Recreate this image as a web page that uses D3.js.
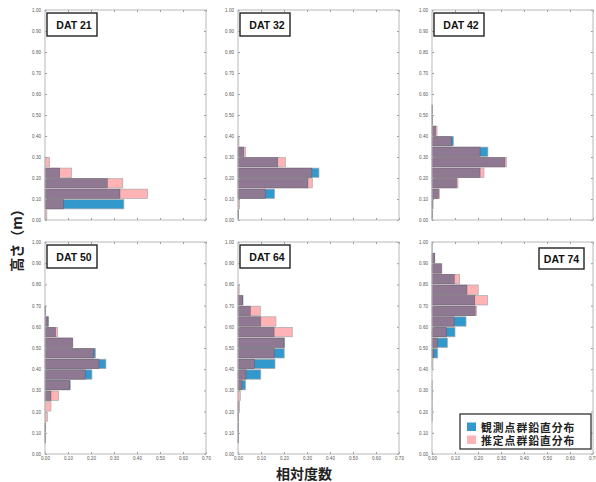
<!DOCTYPE html>
<html lang="ja">
<head>
<meta charset="utf-8">
<title>鉛直分布</title>
<script src="https://d3js.org/d3.v7.min.js"></script>
<style>
  body { margin: 0; background: #fff; }
  .tick text { font-family: "Liberation Sans", Arial, sans-serif; font-size: 4.6px; fill: #555; }
  .tick line { stroke: #999; }
</style>
</head>
<body>
<script>
// height bins: 0.00-0.05, 0.05-0.10, ... 0.95-1.00
const binEdges = d3.range(0, 20).map(i => i * 0.05);
const binWidth = 0.05;

const panelNames = ["DAT 21", "DAT 32", "DAT 42", "DAT 50", "DAT 64", "DAT 74"];

// observed (観測点群) relative frequency per bin
const obs21 = [0, 0.343, 0.326, 0.271, 0.064, 0, 0, 0, 0, 0, 0, 0, 0, 0, 0, 0, 0, 0, 0, 0];
const obs32 = [0.003, 0, 0.159, 0.304, 0.352, 0.173, 0.025, 0, 0, 0, 0, 0, 0, 0, 0, 0, 0, 0, 0, 0];
const obs42 = [0.002, 0.003, 0.028, 0.107, 0.209, 0.317, 0.243, 0.093, 0.016, 0.002, 0.001, 0, 0, 0, 0, 0, 0, 0, 0, 0];
const obs50 = [0, 0.002, 0.003, 0, 0, 0.026, 0.11, 0.204, 0.265, 0.219, 0.12, 0.046, 0.016, 0.003, 0, 0, 0, 0, 0, 0];
const obs64 = [0, 0.002, 0.002, 0.002, 0.002, 0, 0.033, 0.099, 0.161, 0.201, 0.203, 0.157, 0.099, 0.054, 0.022, 0, 0, 0, 0, 0];
const obs74 = [0, 0, 0, 0.001, 0.001, 0.001, 0.001, 0, 0, 0.025, 0.067, 0.1, 0.148, 0.188, 0.186, 0.152, 0.097, 0.041, 0.012, 0.001];

// estimated (推定点群) relative frequency per bin
const est21 = [0.008, 0.08, 0.445, 0.338, 0.116, 0.02, 0, 0, 0, 0, 0, 0, 0, 0, 0, 0, 0, 0, 0, 0];
const est32 = [0.003, 0.007, 0.119, 0.323, 0.321, 0.206, 0.033, 0.004, 0, 0, 0, 0, 0, 0, 0, 0, 0, 0, 0, 0];
const est42 = [0.002, 0.005, 0.032, 0.113, 0.226, 0.323, 0.209, 0.084, 0.022, 0.002, 0.001, 0, 0, 0, 0, 0, 0, 0, 0, 0];
const est50 = [0, 0.002, 0.003, 0.01, 0.026, 0.059, 0.107, 0.175, 0.235, 0.212, 0.121, 0.055, 0.013, 0.003, 0, 0, 0, 0, 0, 0];
const est64 = [0, 0.002, 0.002, 0.002, 0.007, 0.01, 0.017, 0.035, 0.071, 0.157, 0.2, 0.236, 0.165, 0.097, 0.02, 0.005, 0, 0, 0, 0];
const est74 = [0, 0, 0, 0, 0, 0, 0, 0, 0.004, 0.007, 0.023, 0.062, 0.096, 0.193, 0.242, 0.201, 0.12, 0.043, 0.012, 0];

const obsSeries = [obs21, obs32, obs42, obs50, obs64, obs74];
const estSeries = [est21, est32, est42, est50, est64, est74];

const yTicks = d3.range(0, 11).map(i => i / 10);
const xTicks = d3.range(0, 8).map(i => i / 10);

const legendLabels = ["観測点群鉛直分布", "推定点群鉛直分布"];

const blue = "#3399cc", pink = "#ffb3b5", mix = "#8f7891";

const width = 596, height = 482;
const svg = d3.select("body").append("svg")
  .attr("width", width).attr("height", height);

// panel grid
const colX = [45, 238, 432];
const pw = 161;
const rows = [{ top: 10, bottom: 220 }, { top: 242, bottom: 454 }];

panelNames.forEach((name, i) => {
  const col = i % 3, row = Math.floor(i / 3);
  const x0 = colX[col], r = rows[row];
  const x = d3.scaleLinear().domain([0, 0.7]).range([x0, x0 + pw]);
  const y = d3.scaleLinear().domain([0, 1]).range([r.bottom, r.top]);
  const g = svg.append("g");

  // bars
  const bins = binEdges.map((lo, k) => ({ lo, o: obsSeries[i][k], e: estSeries[i][k] }))
    .filter(d => d.o > 0 || d.e > 0);
  const barY = d => y(d.lo + binWidth) + 0.6;
  const barH = d => y(d.lo) - y(d.lo + binWidth) - 1.2;

  g.selectAll(".est").data(bins.filter(d => d.e > d.o)).join("rect")
    .attr("x", x(0)).attr("y", barY).attr("height", barH)
    .attr("width", d => x(d.e) - x(0))
    .attr("fill", pink).attr("stroke", "#aaa").attr("stroke-width", 0.7);
  g.selectAll(".obs").data(bins.filter(d => d.o >= d.e)).join("rect")
    .attr("x", x(0)).attr("y", barY).attr("height", barH)
    .attr("width", d => x(d.o) - x(0))
    .attr("fill", blue).attr("stroke", "#aaa").attr("stroke-width", 0.7);
  g.selectAll(".mix").data(bins.filter(d => Math.min(d.o, d.e) > 0)).join("rect")
    .attr("x", x(0)).attr("y", barY).attr("height", barH)
    .attr("width", d => x(Math.min(d.o, d.e)) - x(0))
    .attr("fill", mix).attr("stroke", "#5a4a5c").attr("stroke-opacity", 0.6).attr("stroke-width", 0.6);

  // axes with inward ticks on all sides
  g.append("g").attr("transform", `translate(${x0},0)`)
    .call(d3.axisLeft(y).tickValues(yTicks).tickFormat(d3.format(".2f")).tickSize(-2).tickPadding(4));
  g.append("g").attr("transform", `translate(${x0 + pw},0)`)
    .call(d3.axisRight(y).tickValues(yTicks).tickFormat("").tickSize(-2));
  g.append("g").attr("transform", `translate(0,${r.bottom})`)
    .call(d3.axisBottom(x).tickValues(xTicks).tickFormat(row === 1 ? d3.format(".2f") : "").tickSize(-2).tickPadding(3));
  g.append("g").attr("transform", `translate(0,${r.top})`)
    .call(d3.axisTop(x).tickValues(xTicks).tickFormat("").tickSize(-2));
  g.selectAll(".domain").remove();

  g.append("rect")
    .attr("x", x0).attr("y", r.top).attr("width", pw).attr("height", r.bottom - r.top)
    .attr("fill", "none").attr("stroke", "#b8b8b8").attr("stroke-width", 1);

  // title box
  const right = i === 5;
  const bw = right ? 45 : 50, bh = right ? 21 : 23;
  const bx = right ? x0 + pw - 9 - bw : x0 + 2;
  const by = right ? r.top + 6 : r.top + 3;
  g.append("rect").attr("x", bx).attr("y", by).attr("width", bw).attr("height", bh)
    .attr("fill", "#fff").attr("stroke", "#222").attr("stroke-width", 1.4);
  g.append("text").attr("x", bx + bw / 2 + (right ? 0 : 2)).attr("y", by + bh / 2 + 0.5)
    .attr("text-anchor", "middle").attr("dominant-baseline", "central")
    .attr("font-family", "Liberation Sans, Arial, sans-serif").attr("font-weight", "bold")
    .attr("font-size", 10.5).attr("fill", "#111").text(name);
});

// legend
const lg = svg.append("g");
lg.append("rect").attr("x", 460).attr("y", 414).attr("width", 131).attr("height", 35)
  .attr("fill", "#fff").attr("stroke", "#222").attr("stroke-width", 1.2);
[blue, pink].forEach((c, k) => {
  lg.append("rect").attr("x", 467).attr("y", 422.5 + k * 13).attr("width", 9).attr("height", 8.5).attr("fill", c);
  lg.append("text").attr("x", 481).attr("y", 427 + k * 13)
    .attr("dominant-baseline", "central")
    .attr("font-family", "Noto Sans CJK JP, sans-serif").attr("font-size", 10.8).attr("font-weight", "bold")
    .attr("letter-spacing", 1).attr("fill", "#222").text(legendLabels[k]);
});

// axis titles
svg.append("text").attr("transform", "translate(16,237) rotate(-90)")
  .attr("text-anchor", "middle").attr("dominant-baseline", "central")
  .attr("font-family", "Noto Sans CJK JP, sans-serif").attr("font-weight", "bold")
  .attr("font-size", 14).attr("fill", "#222").text("高さ（m）");
svg.append("text").attr("x", 304).attr("y", 479)
  .attr("text-anchor", "middle")
  .attr("font-family", "Noto Sans CJK JP, sans-serif").attr("font-weight", "bold")
  .attr("font-size", 14).attr("fill", "#222").text("相対度数");
</script>
</body>
</html>
